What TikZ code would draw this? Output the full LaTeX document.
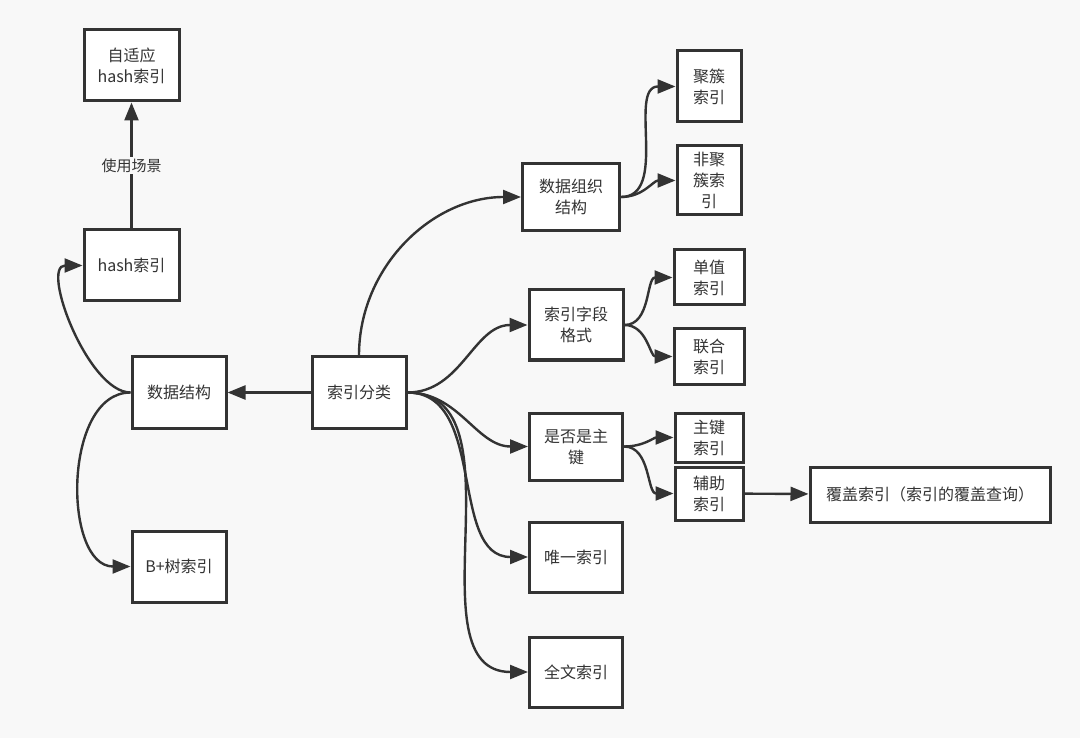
\documentclass[tikz,border=0pt]{standalone}
\usepackage{fontspec}
\setmainfont{Noto Sans CJK SC}
\usetikzlibrary{arrows.meta,positioning}
\definecolor{ink}{HTML}{333333}
\definecolor{bg}{HTML}{F8F8F8}

\begin{document}
\begin{tikzpicture}[x=1pt,y=-1pt,line width=2.4pt,draw=ink,
	box/.style={draw=ink,line width=3pt,fill=white,text=ink,align=center,inner sep=0pt,font=\fontsize{16}{21}\selectfont},
	>={Triangle[length=18pt,width=14pt]}]
		\fill[bg] (0,0) rectangle (1080,738);
		\useasboundingbox (0,0) rectangle (1080,738);
		% left side
		\node[box, minimum width=95pt, minimum height=71pt] (ahash) at (131.5,65.5) {自适应\\hash索引};
		\node[box, minimum width=95pt, minimum height=71pt] (hash) at (131.5,265.5) {hash索引};
		\node[box, minimum width=94pt, minimum height=71pt] (ds) at (179,392.5) {数据结构};
		\node[box, minimum width=94pt, minimum height=71pt] (bplus) at (179,566.5) {B+树索引};
		\node[box, minimum width=94pt, minimum height=71pt] (cls) at (359,392.5) {索引分类};
		% right side
		\node[box, minimum width=97pt, minimum height=67pt] (org) at (571,197) {数据组织\\结构};
		\node[box, minimum width=64pt, minimum height=71pt] (clu) at (709,86.5) {聚簇\\索引};
		\node[box, minimum width=64pt, minimum height=69pt] (nclu) at (709,180.5) {非聚\\簇索\\引};
		\node[box, minimum width=94pt, minimum height=70pt] (fld) at (576,325) {索引字段\\格式};
		\node[box, minimum width=70pt, minimum height=55pt] (single) at (709,277.5) {单值\\索引};
		\node[box, minimum width=70pt, minimum height=55pt] (multi) at (709,356.5) {联合\\索引};
		\node[box, minimum width=93pt, minimum height=67pt] (pk) at (576,446.5) {是否是主\\键};
		\node[box, minimum width=68pt, minimum height=49pt] (pidx) at (709,437.5) {主键\\索引};
		\node[box, minimum width=68pt, minimum height=53pt] (sidx) at (709,493.5) {辅助\\索引};
		\node[box, minimum width=240pt, minimum height=55pt] (cover) at (930,494.5) {覆盖索引（索引的覆盖查询）};
		\node[box, minimum width=93pt, minimum height=70pt] (uniq) at (576,557) {唯一索引};
		\node[box, minimum width=93pt, minimum height=70pt] (full) at (576,672) {全文索引};
		
		\path[->] (cls) edge (ds)
		(ds.west) edge[out=180, in=180, looseness=0.8] (hash.west)
		(ds.west) edge[out=180, in=180] (bplus.west)
		(hash) edge node[fill=bg, text=ink, inner sep=2pt, font=\fontsize{15}{21}\selectfont] {使用场景} (ahash)
		(cls.north) edge[out=90, in=180] (org.west)
		(cls.east) edge[out=0, in=180] (fld.west)
		(cls.east) edge[out=0, in=180] (pk.west)
		(cls.east) edge[out=0, in=180] (uniq.west)
		(cls.east) edge[out=0, in=180] (full.west)
		(org.east) edge[out=0, in=180] (clu.west)
		(org.east) edge[out=0, in=180] (nclu.west)
		(fld.east) edge[out=0, in=180] (single.west)
		(fld.east) edge[out=0, in=180] (multi.west)
		(pk.east) edge[out=0, in=180] (pidx.west)
		(pk.east) edge[out=0, in=180] (sidx.west)
		(sidx) edge (cover);
\end{tikzpicture}
\end{document}
